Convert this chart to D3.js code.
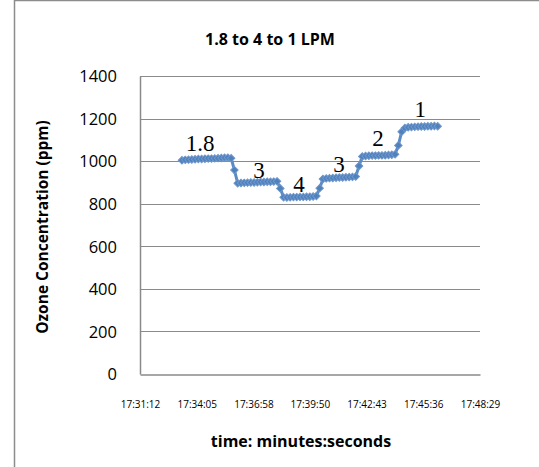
<!DOCTYPE html>
<html>
<head>
<meta charset="utf-8">
<script src="https://cdn.jsdelivr.net/npm/d3@7"></script>
<style>
  body { margin: 0; background: #fff; }
  svg { display: block; }
  text { font-family: "Open Sans", "Liberation Sans", sans-serif; fill: #000; }
</style>
</head>
<body>
<div id="chart"></div>
<script>
// tick labels on the time axis
const xTickLabels = ["17:31:12", "17:34:05", "17:36:58", "17:39:50", "17:42:43", "17:45:36", "17:48:29"];
const yTicks = [0, 200, 400, 600, 800, 1000, 1200, 1400];

// seconds elapsed since 17:31:12
const elapsed = [
  128, 138, 148, 158, 168, 178, 188, 198, 208, 218, 228, 238, 248, 258, 268, 278,
  288,
  298, 308, 318, 328, 338, 348, 358, 368, 378, 388, 398, 408, 418,
  428,
  438, 448, 458, 468, 478, 488, 498, 508, 518, 528, 538,
  548,
  558, 568, 578, 588, 598, 608, 618, 628, 638, 648, 658,
  668,
  678, 688, 698, 708, 718, 728, 738, 748, 758, 768, 778,
  788, 798,
  808, 818, 828, 838, 848, 858, 868, 878, 888, 898, 908
];

// ozone concentration (ppm)
const ozone = [
  1004, 1006, 1007, 1008, 1009, 1010, 1010, 1011, 1012, 1012, 1013, 1014, 1015, 1016, 1016, 1014,
  958,
  896, 897, 898, 899, 900, 900, 901, 902, 902, 903, 903, 904, 905,
  872,
  830, 829, 830, 831, 831, 832, 832, 833, 833, 834, 836,
  873,
  916, 919, 920, 921, 922, 923, 923, 924, 925, 926, 928,
  977,
  1022, 1024, 1025, 1026, 1026, 1027, 1027, 1028, 1029, 1030, 1032,
  1074, 1138,
  1156, 1159, 1160, 1161, 1162, 1163, 1163, 1164, 1164, 1165, 1164
];

// flow rate labels written on the plot (LPM)
const flowLabels = ["1.8", "3", "4", "3", "2", "1"];
const flowElapsed = [183, 363, 485, 607, 726, 855];
const flowOzone = [1049, 921, 856, 948, 1071, 1209];

const width = 539, height = 467;
const margin = { top: 76, right: 59, bottom: 93, left: 140 };

function toSeconds(s) {
  const p = s.split(":").map(Number);
  return p[0] * 3600 + p[1] * 60 + p[2];
}
const t0 = toSeconds(xTickLabels[0]);
const xTickPos = xTickLabels.map(s => toSeconds(s) - t0);

const svg = d3.select("#chart").append("svg")
  .attr("width", width)
  .attr("height", height);

// outer chart border (cut off at right/bottom like the screenshot)
svg.append("path")
  .attr("d", `M14.5,${height} V0.5 H${width}`)
  .attr("fill", "none")
  .attr("stroke", "#8c8c8c")
  .attr("stroke-width", 1.5);

const x = d3.scaleLinear()
  .domain([0, xTickPos[xTickPos.length - 1]])
  .range([margin.left, width - margin.right]);

const y = d3.scaleLinear()
  .domain([0, 1400])
  .range([height - margin.bottom, margin.top]);

// gridlines
svg.append("g")
  .selectAll("line")
  .data(yTicks.slice(1))
  .enter()
  .append("line")
  .attr("x1", x.range()[0])
  .attr("x2", x.range()[1])
  .attr("y1", d => Math.round(y(d)) + 0.5)
  .attr("y2", d => Math.round(y(d)) + 0.5)
  .attr("stroke", "#8a8a8a")
  .attr("stroke-width", 1);

// y axis
const yAxis = svg.append("g")
  .attr("transform", `translate(${margin.left},0)`)
  .call(d3.axisLeft(y).tickValues(yTicks).tickSize(0).tickPadding(23).tickFormat(d3.format("d")));
yAxis.select(".domain").attr("stroke", "#8a8a8a").attr("stroke-width", 1.5);
yAxis.selectAll("text").style("font-size", "16.5px").attr("dy", "0.35em");

// x axis
const xAxis = svg.append("g")
  .attr("transform", `translate(0,${Math.round(y(0)) + 0.5})`)
  .call(d3.axisBottom(x).tickValues(xTickPos).tickSize(0).tickPadding(26)
    .tickFormat((d, i) => xTickLabels[i]));
xAxis.select(".domain").attr("stroke", "#8a8a8a").attr("stroke-width", 1.5);
xAxis.selectAll("text").style("font-size", "10px");

// series
const points = elapsed.map((t, i) => ({ t: t, v: ozone[i] }));
const line = d3.line().x(d => x(d.t)).y(d => y(d.v));

svg.append("path")
  .datum(points)
  .attr("d", line)
  .attr("fill", "none")
  .attr("stroke", "#5b8bc6")
  .attr("stroke-width", 3);

const diamond = d3.symbol().type(d3.symbolSquare).size(28);
svg.append("g")
  .selectAll("path")
  .data(points)
  .enter()
  .append("path")
  .attr("d", diamond)
  .attr("transform", d => `translate(${x(d.t)},${y(d.v)}) rotate(45)`)
  .attr("fill", "#4f81bd")
  .attr("stroke", "#6f97cb")
  .attr("stroke-width", 1);

// flow labels
svg.append("g")
  .selectAll("text")
  .data(flowLabels)
  .enter()
  .append("text")
  .attr("x", (d, i) => x(flowElapsed[i]))
  .attr("y", (d, i) => y(flowOzone[i]))
  .attr("text-anchor", "middle")
  .style("font-family", "'Liberation Serif', 'Times New Roman', serif")
  .style("font-size", "23px")
  .text(d => d);

// titles
svg.append("text")
  .attr("x", 270)
  .attr("y", 45)
  .attr("text-anchor", "middle")
  .style("font-size", "16px")
  .style("font-weight", "bold")
  .text("1.8 to 4 to 1 LPM");

svg.append("text")
  .attr("x", 301)
  .attr("y", 447)
  .attr("text-anchor", "middle")
  .style("font-size", "16px")
  .style("font-weight", "bold")
  .text("time: minutes:seconds");

svg.append("text")
  .attr("transform", `translate(48,227) rotate(-90)`)
  .attr("text-anchor", "middle")
  .style("font-size", "15.5px")
  .style("font-weight", "bold")
  .text("Ozone Concentration (ppm)");
</script>
</body>
</html>
